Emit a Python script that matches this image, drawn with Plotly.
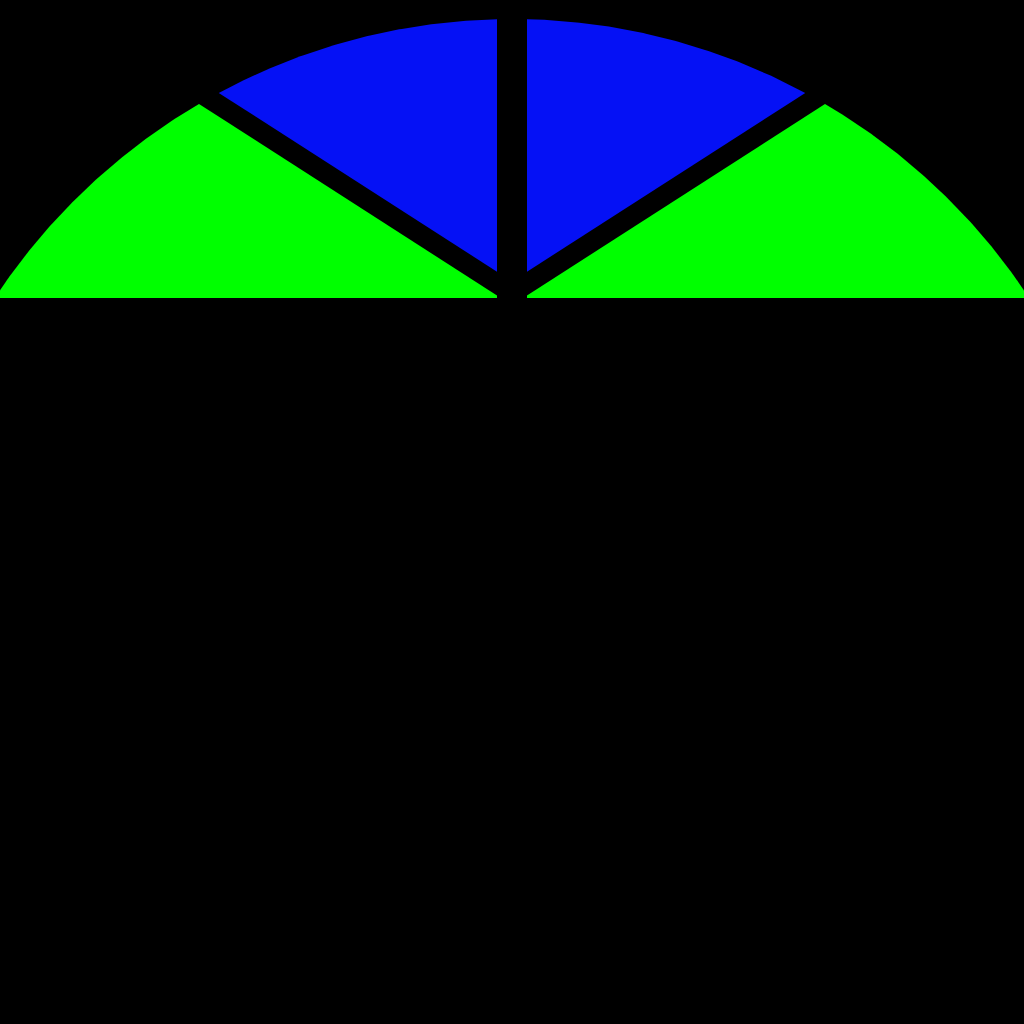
import numpy as np
import plotly.graph_objects as go

# ---------------- data ----------------
slice_labels = ["Green (left)", "Blue (left)", "Blue (right)", "Green (right)", "Rest"]
slice_values = [4, 7, 7, 4, 22]
slice_colors = ["#00FF00", "#0511F5", "#0511F5", "#00FF00", "#000000"]

# ---------------- styling / geometry (chart units, origin = pie centre, y up) ----------------
START_DEG = 180.0            # first slice starts at 9 o'clock, slices run clockwise
RIM_CENTER = (0.0, -340.0)   # the visible rim is an arc of this circle
RIM_RADIUS = 619.0
PAD_START = [0, 14, 15, 6, 0]   # black gap kept free at the start edge of each slice
PAD_END = [6, 15, 14, 0, 0]     # black gap kept free at the end edge of each slice
CENTER_STRIP = 15               # half width of the vertical gap through the centre
X_RANGE = [-512, 512]
Y_RANGE = [-726, 298]


def clip(poly, nx, ny, c):
    """Keep the part of a convex polygon where nx*x + ny*y >= c."""
    out = []
    n = len(poly)
    for i in range(n):
        p, q = poly[i], poly[(i + 1) % n]
        dp = nx * p[0] + ny * p[1] - c
        dq = nx * q[0] + ny * q[1] - c
        if dp >= 0:
            out.append(p)
        if (dp >= 0) != (dq >= 0):
            t = dp / (dp - dq)
            out.append((p[0] + t * (q[0] - p[0]), p[1] + t * (q[1] - p[1])))
    return out


t = np.linspace(0, 2 * np.pi, 1440, endpoint=False)
rim = [(RIM_CENTER[0] + RIM_RADIUS * np.cos(a), RIM_CENTER[1] + RIM_RADIUS * np.sin(a)) for a in t]

total = float(sum(slice_values))
fig = go.Figure()
angle = START_DEG
for i, (lab, val, col) in enumerate(zip(slice_labels, slice_values, slice_colors)):
    span = 360.0 * val / total
    a_start = np.radians(angle)
    a_end = np.radians(angle - span)
    angle -= span
    poly = list(rim)
    if span < 180:
        # clockwise side of the start ray
        poly = clip(poly, np.sin(a_start), -np.cos(a_start), PAD_START[i])
        # counter-clockwise side of the end ray
        poly = clip(poly, -np.sin(a_end), np.cos(a_end), PAD_END[i])
        mid = (a_start + a_end) / 2
        side = 1 if np.cos(mid) > 0 else -1
        poly = clip(poly, side, 0, CENTER_STRIP)
    else:
        poly = clip(poly, 0, -1, 0)
    xs = [p[0] for p in poly] + [poly[0][0]]
    ys = [p[1] for p in poly] + [poly[0][1]]
    fig.add_trace(go.Scatter(
        x=xs, y=ys, mode="lines", fill="toself", fillcolor=col,
        line=dict(width=0, color=col), name=lab, hoverinfo="name",
    ))

fig.update_layout(
    width=1024, height=1024,
    margin=dict(l=0, r=0, t=0, b=0),
    paper_bgcolor="#000000", plot_bgcolor="#000000",
    showlegend=False,
    xaxis=dict(range=X_RANGE, visible=False, fixedrange=True),
    yaxis=dict(range=Y_RANGE, visible=False, fixedrange=True),
)
fig.write_html(
    "out.html",
    config={"displayModeBar": False},
    post_script="document.body.style.margin='0';document.body.style.background='#000';",
)
